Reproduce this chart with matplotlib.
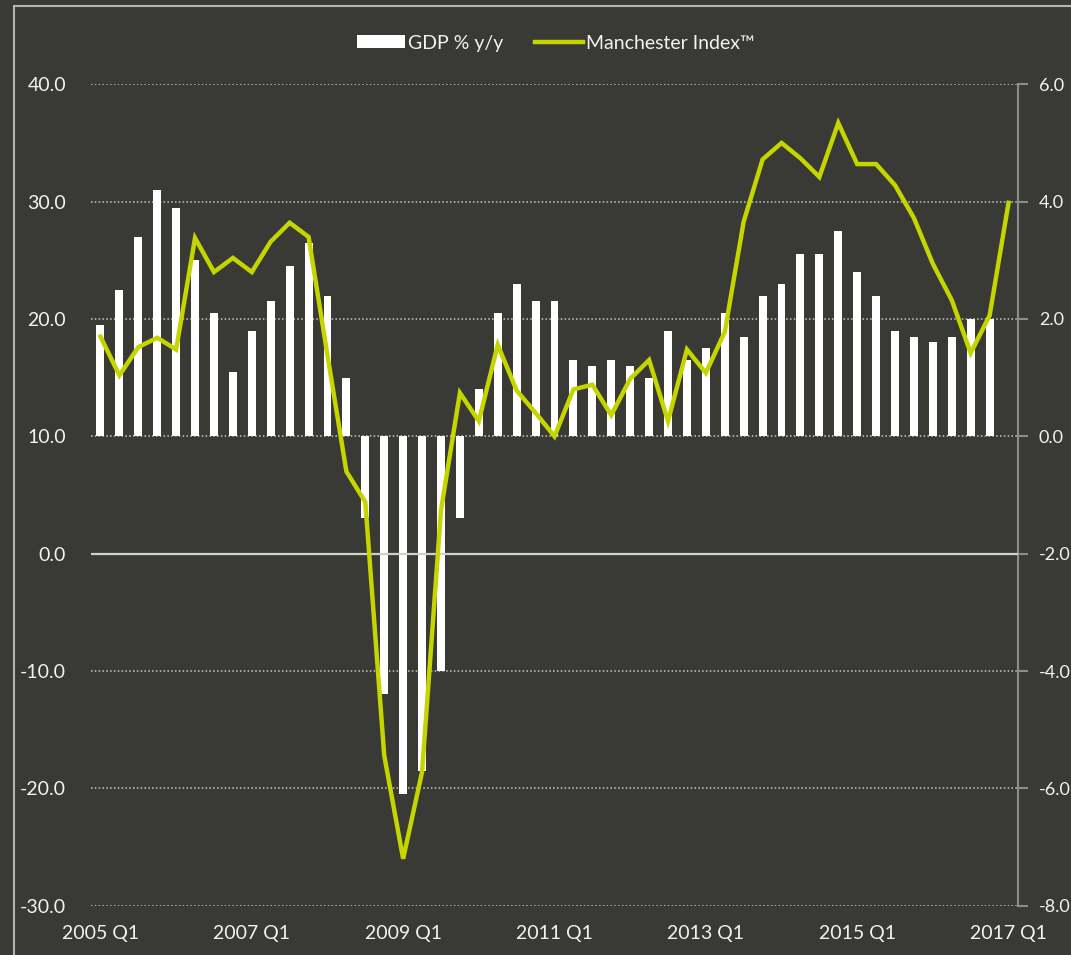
import matplotlib
matplotlib.use("Agg")
import matplotlib.pyplot as plt
from matplotlib.lines import Line2D
from matplotlib.patches import Patch

# Datos (trimestres 2005 Q1 - 2017 Q1)
quarters = [f"{y} Q{q}" for y in range(2005, 2018) for q in range(1, 5)][:49]
tick_labels = ["2005 Q1", "2007 Q1", "2009 Q1", "2011 Q1", "2013 Q1", "2015 Q1", "2017 Q1"]

# GDP % y/y (eje derecho), sin dato en 2017 Q1
gdp = [1.9, 2.5, 3.4, 4.2, 3.9, 3.0, 2.1, 1.1, 1.8, 2.3, 2.9, 3.3,
       2.4, 1.0, -1.4, -4.4, -6.1, -5.7, -4.0, -1.4, 0.8, 2.1, 2.6, 2.3,
       2.3, 1.3, 1.2, 1.3, 1.2, 1.0, 1.8, 1.3, 1.5, 2.1, 1.7, 2.4,
       2.6, 3.1, 3.1, 3.5, 2.8, 2.4, 1.8, 1.7, 1.6, 1.7, 2.0, 2.0]

# Manchester Index (eje izquierdo)
manchester = [18.5, 15.2, 17.6, 18.4, 17.4, 26.9, 24.0, 25.2, 24.0, 26.6, 28.2, 27.0,
              16.9, 7.0, 4.4, -17.2, -26.0, -18.6, 3.7, 13.7, 11.3, 17.8, 13.9, 12.0,
              10.0, 14.0, 14.4, 11.8, 14.9, 16.5, 11.3, 17.4, 15.4, 18.9, 28.3, 33.6,
              35.0, 33.7, 32.1, 36.7, 33.2, 33.2, 31.4, 28.6, 24.7, 21.6, 17.1, 20.3,
              29.9]

bg = "#393a35"
lime = "#c5d500"
txt = "#f2f2f2"
grid_c = "#c8c8c8"

plt.rcParams["font.family"] = ["Lato", "DejaVu Sans"]

W, H = 1071, 955
fig = plt.figure(figsize=(W / 100, H / 100), dpi=100)
fig.patch.set_facecolor(bg)

left, right, top, bottom = 91, 1018, 84.3, 905.7
ax = fig.add_axes([left / W, 1 - bottom / H, (right - left) / W, (bottom - top) / H])
ax.set_facecolor(bg)
ax2 = ax.twinx()

xb = list(range(len(gdp)))
xl = list(range(len(manchester)))

# Barras en el eje derecho
ax2.bar(xb, gdp, width=0.42, color="white", zorder=2)
ax2.set_ylim(-8, 6)
ax2.set_yticks(range(-8, 7, 2))
ax2.set_yticklabels([f"{v:.1f}" for v in range(-8, 7, 2)])
ax2.grid(axis="y", linestyle=(0, (1, 1.5)), color=grid_c, lw=1.1)
ax2.set_axisbelow(True)

# Linea en el eje izquierdo
ax.plot(xl, manchester, color=lime, lw=3.2, zorder=3, solid_joinstyle="miter")
ax.axhline(0, color="#d0d0d0", lw=1.6, zorder=1)
ax.set_ylim(-30, 40)
ax.set_yticks(range(-30, 41, 10))
ax.set_yticklabels([f"{v:.1f}" for v in range(-30, 41, 10)])
ax.set_xlim(-0.5, len(manchester) - 0.5)
ax.set_xticks([quarters.index(t) for t in tick_labels])
ax.set_xticklabels(tick_labels)
ax.set_zorder(ax2.get_zorder() + 1)
ax.patch.set_visible(False)

for s in ax.spines.values():
    s.set_visible(False)
for name, s in ax2.spines.items():
    s.set_visible(name == "right")
ax2.spines["right"].set_color("#8c8c8c")
ax2.spines["right"].set_linewidth(1.5)

ax.tick_params(axis="y", length=0, pad=18, labelsize=14, labelcolor=txt)
ax.tick_params(axis="x", length=0, pad=14, labelsize=14, labelcolor=txt)
ax2.tick_params(axis="y", length=7, width=1.5, color="#8c8c8c", pad=8,
                labelsize=13, labelcolor=txt)

# Leyenda
handles = [Patch(facecolor="white", edgecolor="none"),
           Line2D([0], [0], color=lime, lw=3.2)]
leg = fig.legend(handles, ["GDP % y/y", "Manchester Index™"], loc="center",
                 bbox_to_anchor=(0.519, 1 - 43 / H), ncol=2, frameon=False,
                 fontsize=14, handlelength=2.5, handleheight=0.6,
                 handletextpad=0.15, columnspacing=1.6)
for t in leg.get_texts():
    t.set_color(txt)

# Marco exterior
fig.add_artist(Line2D([14 / W, 14 / W], [0, 1 - 6 / H], color="#b4b4b4", lw=1.5))
fig.add_artist(Line2D([14 / W, 1], [1 - 6 / H, 1 - 6 / H], color="#b4b4b4", lw=1.5))

fig.savefig("out.png", dpi=100, facecolor=bg)
